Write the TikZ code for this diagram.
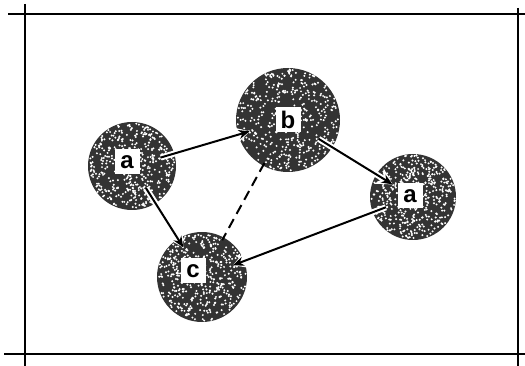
\documentclass[tikz,border=0pt]{standalone}
\usepackage{fontspec}
\setsansfont{Liberation Sans}
\usepackage{tikz}
\usetikzlibrary{arrows,arrows.meta,positioning}
\tikzset{
    myptr/.style={
        -{Stealth[length=11pt,width=9pt]},
        line width=2pt,
        preaction={draw=white, line width=6pt, -{Stealth[length=16pt,width=18pt]}}
    },
    ball/.style={
        circle,
        fill=black!80,
        inner sep=0pt,
        outer sep=0pt
    },
    lbl/.style={
        fill=white,
        inner sep=2pt,
        minimum size=25pt,
        font=\sffamily\bfseries\fontsize{24}{24}\selectfont
    }
}
\begin{document}
\begin{tikzpicture}[x=1pt,y=-1pt]
        \useasboundingbox (0,0) rectangle (525,366);
        % draw frame
        \draw[line width=2pt] (8,14) -- (525,14);
        \draw[line width=2pt] (4,354) -- (525,354);
        \draw[line width=2pt] (25,4) -- (25,366);
        \draw[line width=2pt] (518,8) -- (518,366);
        
        % draw balls
        \node[ball, minimum size=88pt] (a1) at (132,166) {};
        \node[ball, minimum size=104pt] (b) at (288,120) {};
        \node[ball, minimum size=86pt] (a2) at (413,197) {};
        \node[ball, minimum size=90pt] (c) at (202,277) {};
        \pgfmathsetseed{17}
        \foreach \n/\rad in {a1/43, b/51, a2/42, c/44}
        {
            \foreach \i in {1,...,420}
            {
                \pgfmathsetmacro\ang{360*rnd}
                \pgfmathsetmacro\dd{\rad*sqrt(rnd)}
                \fill[white, shift={(\n)}] (\ang:\dd) circle (1.1);
            }
        }
        
        % draw labels
        \node[lbl] (la1) at (127,162) {a};
        \node[lbl] (lb) at (288,120) {b};
        \node[lbl] (la2) at (410,196) {a};
        \node[lbl] (lc) at (193,271) {c};
        
        % draw connectors
        \draw[myptr, shorten <=-14pt, shorten >=-12pt] (a1) -- (b);
        \draw[myptr, shorten <=-18pt, shorten >=-10pt] (a1) -- (c);
        \draw[line width=2pt, dash pattern=on 10pt off 6pt, shorten <=-3pt, shorten >=-3pt] (b) -- (c);
        \draw[myptr, shorten <=-16pt, shorten >=-19pt] (b) -- (a2);
        \draw[myptr, shorten <=-14pt, shorten >=-12pt] (a2) -- (c);
    \end{tikzpicture}
\end{document}
